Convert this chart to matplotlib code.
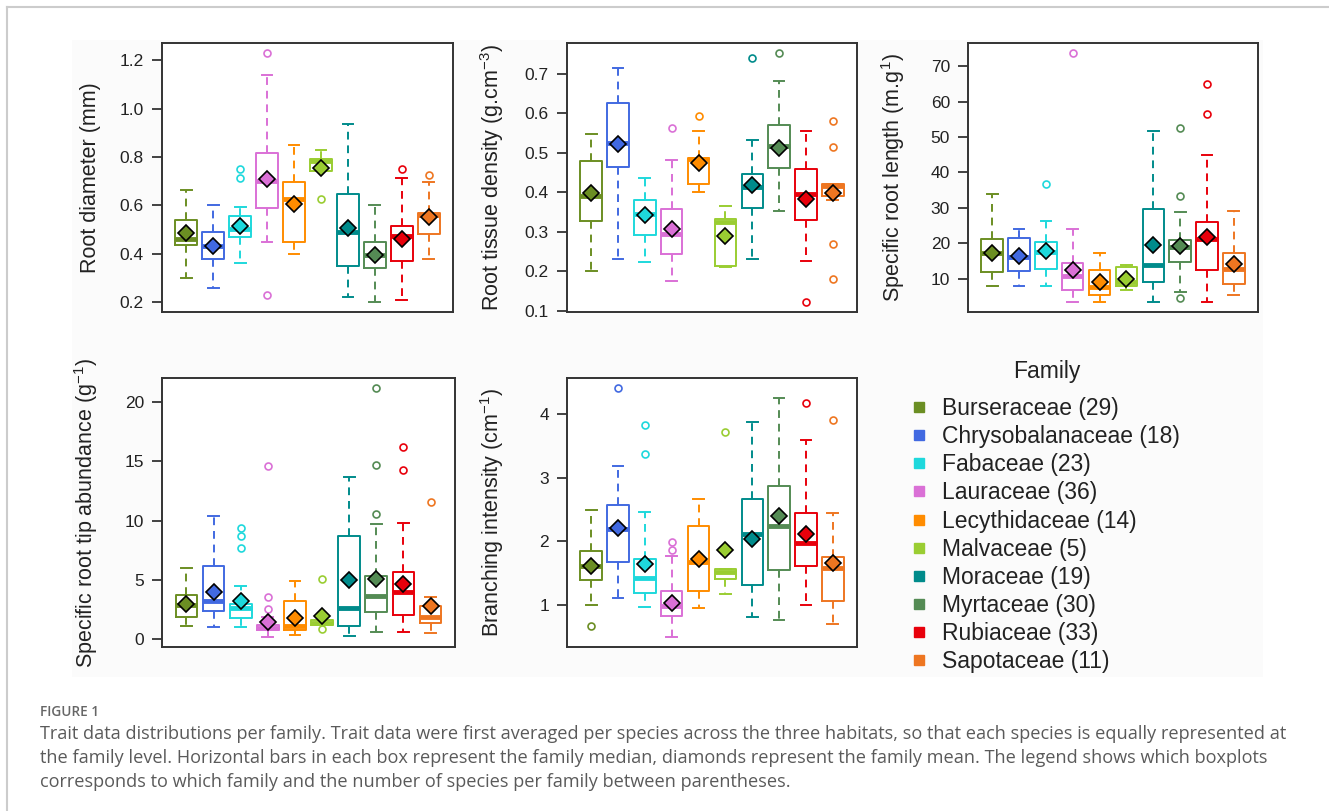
import matplotlib
matplotlib.use("Agg")
import matplotlib.pyplot as plt
from matplotlib.lines import Line2D
from matplotlib.patches import Rectangle

plt.rcParams['font.family'] = ['Liberation Sans', 'DejaVu Sans']
plt.rcParams['mathtext.default'] = 'regular'

# families, species counts and colours
families = ['Burseraceae', 'Chrysobalanaceae', 'Fabaceae', 'Lauraceae', 'Lecythidaceae',
            'Malvaceae', 'Moraceae', 'Myrtaceae', 'Rubiaceae', 'Sapotaceae']
n_species = [29, 18, 23, 36, 14, 5, 19, 30, 33, 11]
colors = ['#6B8E23', '#4169E1', '#1ED8DC', '#DA70D6', '#FF8C00',
          '#9ACD32', '#008B8B', '#548B54', '#E8000B', '#EE7621']

# root diameter (mm)
diam_lo = [0.30, 0.26, 0.36, 0.45, 0.40, 0.74, 0.22, 0.20, 0.21, 0.38]
diam_q1 = [0.435, 0.38, 0.47, 0.59, 0.45, 0.74, 0.35, 0.34, 0.37, 0.48]
diam_med = [0.46, 0.43, 0.50, 0.70, 0.625, 0.785, 0.49, 0.395, 0.475, 0.56]
diam_q3 = [0.54, 0.49, 0.555, 0.815, 0.695, 0.79, 0.645, 0.45, 0.515, 0.57]
diam_hi = [0.665, 0.60, 0.595, 1.14, 0.85, 0.83, 0.935, 0.60, 0.715, 0.695]
diam_mean = [0.485, 0.43, 0.515, 0.71, 0.605, 0.755, 0.505, 0.395, 0.46, 0.55]
diam_out = [[], [], [0.715, 0.75], [0.23, 1.23], [], [0.625], [], [], [0.75], [0.725]]

# root tissue density
rtd_lo = [0.20, 0.232, 0.224, 0.175, 0.402, 0.21, 0.23, 0.353, 0.227, 0.38]
rtd_q1 = [0.327, 0.463, 0.292, 0.244, 0.422, 0.213, 0.359, 0.461, 0.331, 0.39]
rtd_med = [0.39, 0.524, 0.344, 0.295, 0.484, 0.325, 0.414, 0.518, 0.395, 0.415]
rtd_q3 = [0.48, 0.626, 0.38, 0.357, 0.488, 0.332, 0.447, 0.57, 0.46, 0.42]
rtd_hi = [0.547, 0.714, 0.435, 0.481, 0.556, 0.365, 0.532, 0.681, 0.556, 0.42]
rtd_mean = [0.397, 0.522, 0.342, 0.306, 0.474, 0.29, 0.419, 0.513, 0.383, 0.398]
rtd_out = [[], [], [], [0.564], [0.594], [], [0.741], [0.753], [0.122], [0.181, 0.268, 0.514, 0.58]]

# specific root length
srl_lo = [7.9, 7.9, 7.9, 3.4, 3.4, 6.7, 3.4, 6.2, 3.4, 5.5]
srl_q1 = [11.9, 12.1, 12.8, 6.9, 5.3, 7.9, 9.1, 14.7, 12.4, 8.6]
srl_med = [17.1, 16.1, 17.6, 10.7, 7.6, 9.1, 13.8, 19.0, 21.1, 12.6]
srl_q3 = [21.1, 21.6, 20.4, 14.5, 12.4, 13.3, 29.6, 20.9, 25.9, 17.3]
srl_hi = [33.9, 24.0, 26.3, 23.9, 17.3, 13.8, 51.8, 28.9, 45.0, 29.2]
srl_mean = [17.3, 16.3, 17.7, 12.4, 9.1, 10.0, 19.6, 19.2, 21.8, 14.0]
srl_out = [[], [], [36.6], [73.7], [], [], [], [4.5, 33.2, 52.5], [56.5, 64.8], []]

# specific root tip abundance
srta_lo = [1.13, 0.98, 0.98, 0.17, 0.37, 1.15, 0.28, 0.56, 0.56, 0.51]
srta_q1 = [1.86, 2.33, 1.77, 0.73, 0.73, 1.15, 1.13, 2.28, 2.05, 1.35]
srta_med = [2.9, 3.18, 2.6, 0.93, 1.07, 1.35, 2.62, 3.66, 3.94, 1.86]
srta_q3 = [3.74, 6.13, 2.95, 1.15, 3.18, 1.58, 8.66, 5.34, 5.63, 2.76]
srta_hi = [6.0, 10.4, 4.5, 1.9, 4.87, 1.58, 13.67, 9.73, 9.79, 3.54]
srta_mean = [2.95, 3.94, 3.18, 1.43, 1.77, 1.97, 5.0, 5.06, 4.67, 2.76]
srta_out = [[], [], [7.68, 8.72, 9.37], [2.53, 3.54, 14.63], [], [0.84, 5.09], [],
            [10.58, 14.7, 21.2], [14.29, 16.2], [11.56]]

# branching intensity
bi_lo = [1.0, 1.11, 0.97, 0.50, 0.96, 1.17, 0.82, 0.77, 1.01, 0.70]
bi_q1 = [1.39, 1.68, 1.19, 0.83, 1.22, 1.41, 1.31, 1.56, 1.61, 1.06]
bi_med = [1.61, 2.20, 1.42, 0.98, 1.68, 1.52, 2.11, 2.25, 1.98, 1.58]
bi_q3 = [1.85, 2.57, 1.73, 1.23, 2.25, 1.57, 2.67, 2.87, 2.44, 1.76]
bi_hi = [2.5, 3.18, 2.46, 1.77, 2.67, 1.57, 3.87, 4.25, 3.60, 2.45]
bi_mean = [1.61, 2.21, 1.65, 1.04, 1.72, 1.87, 2.04, 2.40, 2.11, 1.67]
bi_out = [[0.67], [4.41], [3.38, 3.83], [1.87, 1.99], [], [3.72], [], [], [4.17], [3.91]]


def draw_panel(ax, lo, q1, med, q3, hi, mean, out, ylabel, ticks, fmt):
    stats = []
    for i in range(len(families)):
        stats.append(dict(whislo=lo[i], q1=q1[i], med=med[i], q3=q3[i],
                          whishi=hi[i], mean=mean[i], fliers=out[i]))
    parts = ax.bxp(stats, positions=range(1, len(families) + 1), widths=0.8,
                   capwidths=0.4, showmeans=True, patch_artist=False,
                   boxprops=dict(linewidth=1.4),
                   medianprops=dict(linewidth=3.5, solid_capstyle='butt'),
                   whiskerprops=dict(linewidth=1.4, linestyle=(0, (4, 3))),
                   capprops=dict(linewidth=1.4),
                   flierprops=dict(marker='o', markerfacecolor='none',
                                   markersize=5, markeredgewidth=1.2),
                   meanprops=dict(marker='D', markeredgecolor='black',
                                  markersize=8.5, markeredgewidth=1.2, zorder=5))
    for i, c in enumerate(colors):
        parts['boxes'][i].set_color(c)
        parts['medians'][i].set_color(c)
        for k in (2 * i, 2 * i + 1):
            parts['whiskers'][k].set_color(c)
            parts['caps'][k].set_color(c)
        parts['fliers'][i].set_markeredgecolor(c)
        parts['means'][i].set_markerfacecolor(c)

    # R style limits: data range plus 4 %
    allv = lo + hi + [v for o in out for v in o]
    vmin, vmax = min(allv), max(allv)
    pad = 0.04 * (vmax - vmin)
    ax.set_ylim(vmin - pad, vmax + pad)
    ax.set_xlim(0.1, len(families) + 0.9)
    ax.set_xticks([])
    ax.set_yticks(ticks)
    ax.set_yticklabels([fmt.format(t) for t in ticks])
    ax.tick_params(axis='y', length=7, width=1.2, pad=6, labelsize=12.5, colors='#222222')
    for s in ax.spines.values():
        s.set_linewidth(1.4)
        s.set_color('#333333')
    ax.set_ylabel(ylabel, fontsize=15.5, color='#222222')
    ax.yaxis.set_label_coords(-0.21, 0.5)


fig = plt.figure(figsize=(13.29, 8.11), dpi=100)
W, H = 1329, 811

# faint background of the embedded figure and the page frame
fig.patches.append(Rectangle((72 / W, 1 - 677 / H), (1263 - 72) / W, (677 - 40) / H,
                             transform=fig.transFigure, facecolor='#fbfbfb',
                             edgecolor='none', zorder=-10))
fig.add_artist(Line2D([7 / W, 7 / W], [0, 1 - 7 / H], transform=fig.transFigure,
                      color='#cccccc', lw=1.5))
fig.add_artist(Line2D([7 / W, 1], [1 - 7 / H, 1 - 7 / H], transform=fig.transFigure,
                      color='#cccccc', lw=1.5))


def add_axes(left, top, right, bottom):
    return fig.add_axes([left / W, 1 - bottom / H, (right - left) / W, (bottom - top) / H])


ax1 = add_axes(162, 43, 453, 312)
ax2 = add_axes(567, 43, 857, 312)
ax3 = add_axes(968, 43, 1258, 312)
ax4 = add_axes(162, 378, 455, 647)
ax5 = add_axes(567, 378, 857, 647)

draw_panel(ax1, diam_lo, diam_q1, diam_med, diam_q3, diam_hi, diam_mean, diam_out,
           'Root diameter (mm)', [0.2, 0.4, 0.6, 0.8, 1.0, 1.2], '{:.1f}')
draw_panel(ax2, rtd_lo, rtd_q1, rtd_med, rtd_q3, rtd_hi, rtd_mean, rtd_out,
           'Root tissue density (g.cm$^{-3}$)', [0.1, 0.2, 0.3, 0.4, 0.5, 0.6, 0.7], '{:.1f}')
draw_panel(ax3, srl_lo, srl_q1, srl_med, srl_q3, srl_hi, srl_mean, srl_out,
           'Specific root length (m.g$^{1}$)', [10, 20, 30, 40, 50, 60, 70], '{:d}')
draw_panel(ax4, srta_lo, srta_q1, srta_med, srta_q3, srta_hi, srta_mean, srta_out,
           'Specific root tip abundance (g$^{-1}$)', [0, 5, 10, 15, 20], '{:d}')
draw_panel(ax5, bi_lo, bi_q1, bi_med, bi_q3, bi_hi, bi_mean, bi_out,
           'Branching intensity (cm$^{-1}$)', [1, 2, 3, 4], '{:d}')

# legend
fig.text(1047 / W, 1 - 372 / H, 'Family', fontsize=16.5, color='#222222',
         ha='center', va='center')
handles = [Line2D([], [], marker='s', linestyle='none', color=c, markersize=7)
           for c in colors]
labels = ['{} ({})'.format(f, n) for f, n in zip(families, n_species)]
fig.legend(handles, labels, loc='upper left',
           bbox_to_anchor=(910 / W, 1 - 397 / H), frameon=False,
           fontsize=16.5, handlelength=0.8, handletextpad=0.6,
           labelspacing=0.225, borderpad=0, borderaxespad=0, labelcolor='#222222')

# caption
cap_font = ['Open Sans', 'DejaVu Sans']
fig.text(40 / W, 1 - 712 / H, 'FIGURE 1', fontsize=9.8, color='#666666',
         family=cap_font, weight='semibold', va='center')
caption_lines = [
    'Trait data distributions per family. Trait data were first averaged per species across the three habitats, so that each species is equally represented at',
    'the family level. Horizontal bars in each box represent the family median, diamonds represent the family mean. The legend shows which boxplots',
    'corresponds to which family and the number of species per family between parentheses.',
]
for k, line in enumerate(caption_lines):
    fig.text(40 / W, 1 - (734 + 24 * k) / H, line, fontsize=13.1, color='#5a5a5a',
             family=cap_font, va='center')

fig.savefig('out.png', dpi=100)
